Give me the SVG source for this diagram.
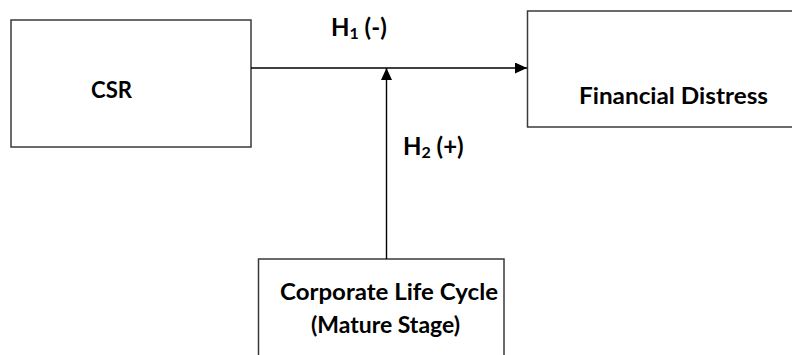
<svg xmlns="http://www.w3.org/2000/svg" width="792" height="355" viewBox="0 0 792 355">
<style>
.box{fill:#fff;stroke:#3a3a3a;stroke-width:1.5}
.t{font-family:Lato,"Liberation Sans",sans-serif;font-weight:700;font-size:23px;fill:#000}
.h{font-size:24px}
.sub{font-size:16px}
.conn{stroke:#000;stroke-width:1.4;fill:none}
</style>
<defs>
<marker id="ah" markerUnits="userSpaceOnUse" markerWidth="12" markerHeight="11" refX="12" refY="5.5" orient="auto">
<path d="M0,0 L12,5.5 L0,11 z" fill="#000"/>
</marker>
</defs>
<rect width="792" height="355" fill="#fff"/>
<g id="csr">
<rect class="box" x="11" y="20" width="240" height="127"/>
<text class="t" x="91" y="98" textLength="41" lengthAdjust="spacingAndGlyphs">CSR</text>
</g>
<g id="financial-distress">
<rect class="box" x="527.5" y="11" width="280" height="116"/>
<text class="t" x="579" y="104" textLength="189" lengthAdjust="spacingAndGlyphs">Financial Distress</text>
</g>
<g id="life-cycle">
<rect class="box" x="258.5" y="259" width="245.5" height="120"/>
<text class="t" x="280" y="300" textLength="218" lengthAdjust="spacingAndGlyphs">Corporate Life Cycle</text>
<text class="t" x="311" y="333" textLength="149" lengthAdjust="spacingAndGlyphs">(Mature Stage)</text>
</g>
<g id="connectors">
<line class="conn" x1="251" y1="68" x2="527" y2="68" marker-end="url(#ah)"/>
<line class="conn" x1="386.5" y1="259" x2="386.5" y2="68" marker-end="url(#ah)"/>
<text class="t h" x="331" y="36">H<tspan class="sub" dy="3">1</tspan><tspan dy="-3"> (-)</tspan></text>
<text class="t h" x="403" y="155">H<tspan class="sub" dy="3">2</tspan><tspan dy="-3"> (+)</tspan></text>
</g>
</svg>
